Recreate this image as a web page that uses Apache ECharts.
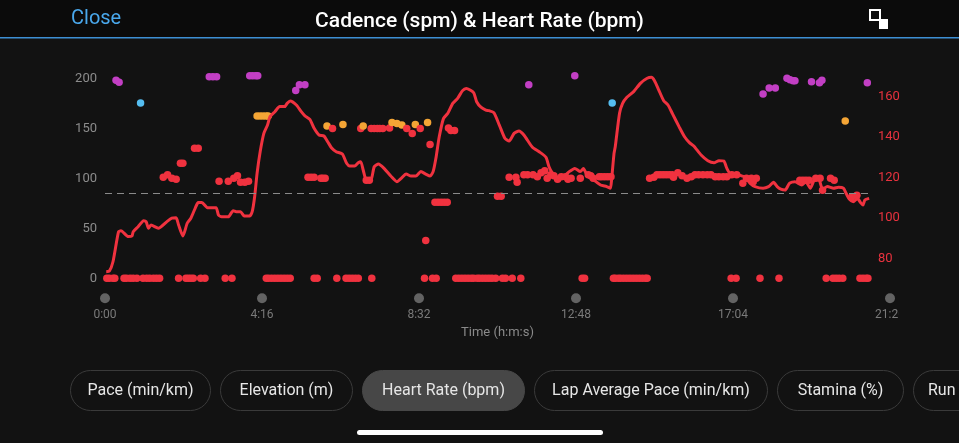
<!DOCTYPE html>
<html><head><meta charset="utf-8">
<script src="https://cdn.jsdelivr.net/npm/echarts@6/dist/echarts.min.js"></script>
<style>html,body{margin:0;padding:0;background:#121212;overflow:hidden}#c{width:959px;height:443px;}</style>
</head><body><div id="c"></div>
<script>
// ---- data ----
const xTicks = [0, 256, 512, 768, 1024, 1280];
const xTickLabels = ['0:00', '4:16', '8:32', '12:48', '17:04', '21:20'];
const cadTicks = [0, 50, 100, 150, 200];
const hrTicks = [80, 100, 120, 140, 160];

const hrTime = [2,7,13,22,26,38,44,46,54,63,67,71,75,87,101,109,116,120,127,134,140,147,152,158,167,181,185,190,201,209,214,221,227,236,240,244,248,253,259,265,269,277,285,293,297,302,312,320,326,334,341,349,357,363,370,377,387,394,399,407,413,417,421,426,434,439,446,455,466,476,483,491,499,507,515,523,530,535,540,545,552,559,567,575,583,589,601,606,613,621,626,634,643,652,659,667,675,683,697,708,719,724,729,735,744,757,766,775,780,786,797,808,818,824,826,830,832,839,844,851,862,873,884,891,896,903,911,918,925,936,945,953,960,972,983,993,1001,1009,1014,1020,1028,1039,1044,1052,1060,1073,1082,1090,1096,1102,1109,1116,1125,1136,1143,1150,1156,1163,1170,1178,1188,1196,1204,1209,1214,1220,1227,1232,1236,1239,1246];
const hrValue = [73.6,73.9,78.5,93.3,93.8,90.9,91.2,93.3,95.8,98.8,98.3,95,96.6,95,98.3,100,100.2,96.6,91.2,97.5,100,104.9,107.7,107.7,105.2,105.2,101.6,100.7,100.7,103.7,103.2,103.2,101.1,101.1,103.2,110.6,122.2,132.8,141.9,146,150.1,152.6,155.1,155.1,156.7,157.9,155.9,152.6,150.5,148.8,144.4,141.1,140.6,137.8,134.5,132.8,131.7,127.1,125.8,125.8,127.4,127.9,123.8,118.9,119.2,125.4,126.8,124.6,120.8,118,119.7,121.8,120.8,120.8,123,121.8,120.8,123,130.4,140.2,149.3,151.8,156.7,159.2,163,164.1,162,157.5,154.8,153.4,153.1,152.1,146,139.5,138.1,141.9,143.1,141.1,135,132.8,130.1,125.4,122.5,120.5,119.7,123,124.6,123,124.6,121.3,118.9,116.4,115.6,114.8,118.9,132,135.3,151.8,156.7,159.7,162.5,166.6,169.1,169.6,167.9,163.3,158,155.9,151.8,145.2,140.2,137.3,135.7,131.2,128.4,127.4,128.4,128.2,124.6,121.8,121.8,120.8,120.2,117.2,115.6,114.8,115.6,117.7,115.6,114.3,113.9,117.2,118,116.4,118,114.8,118.5,120.2,114.3,115.6,114.8,115.3,114.8,111.9,109.3,108.1,109.8,107.7,106.5,109,109.8];

// cadence = 0 (stopped)
const cadStopTime = [3,7,13,16,31,35,41,46,52,62,68,73,79,84,89,120,132,136,140,144,156,163,196,207,263,267,272,277,282,287,292,297,302,341,346,378,393,398,403,408,413,435,521,534,540,572,577,582,587,592,597,601,607,611,616,621,626,631,637,648,653,664,678,778,782,829,832,837,841,846,851,856,861,866,871,876,881,884,1021,1029,1068,1099,1176,1187,1192,1197,1203,1231,1236,1241,1244];
// cadence while moving
const cadTime = [18,23,58,95,102,109,116,123,127,146,152,170,176,182,186,201,210,216,221,228,234,236,241,246,249,248,253,258,263,266,311,317,326,331,336,341,352,355,359,362,371,388,417,421,426,431,434,439,444,448,453,464,468,476,484,492,501,506,514,523,526,530,538,543,548,553,558,560,564,570,640,646,659,670,672,683,689,691,698,705,711,717,721,727,732,738,744,751,755,760,766,775,788,792,796,806,810,815,820,825,827,888,895,900,905,910,915,920,925,927,934,941,949,956,962,968,975,982,988,995,1001,1008,1014,1022,1030,1040,1046,1054,1057,1062,1073,1083,1093,1112,1117,1122,1125,1133,1138,1143,1148,1152,1159,1165,1166,1169,1170,1183,1189,1207,1218,1226,1243];
const cadValue = [199,197,176,101.5,104,100.5,99.5,115.5,115.5,130.5,130.5,202.5,202.5,202.5,97.5,97.5,100.5,103,96.5,96.5,97.5,203.5,203.5,203.5,203.5,163,163,163,163,163,188.5,194.5,194.5,101.5,101.5,101.5,100.5,100.5,100.5,153,150.5,154.5,150.5,153,98.5,98.5,150.5,150.5,150.5,150.5,150.5,151,156.5,155.5,154,150.5,145.5,154.5,150.5,38,156.5,134.5,76.5,76.5,76.5,76.5,76.5,151,148.5,148.5,82.5,82.5,101.5,101.5,96.5,104,104,194.5,104,102,106,108,100.5,104,103,99.5,102,102,99.5,100.5,203.5,100.5,104,103,100.5,102,102,102,102,102,176,100.5,101.5,104,104,104,104,104,104,101.5,106,103,100.5,102,104,104,104,104,104,102,102,102,102,104,104,95.5,100.5,100.5,97,100.5,185,191,191,201,199.5,198.5,198.5,98.5,98.5,98.5,98.5,197.5,100.5,196.5,100.5,199,88.5,100.5,98.5,158,82,83.5,196.5];
const cadAverage = 85.4;
const cadZoneLimits = [153, 164, 174, 184];
const cadZoneColors = ['#f0323f', '#f4a535', '#3fbf5f', '#55bdf0', '#c23fc4'];
const buttonLabels = ['Pace (min/km)', 'Elevation (m)', 'Heart Rate (bpm)', 'Lap Average Pace (min/km)', 'Stamina (%)', 'Run'];
const selectedButton = 2;

// ---- build ----
const FONT = 'Roboto, "Noto Sans", sans-serif';
const hrData = hrTime.map((t, i) => [t, hrValue[i]]);
const cadData = cadStopTime.map(t => [t, 0]).concat(cadTime.map((t, i) => [t, cadValue[i]]));
function zoneColor(v) {
  let k = 0;
  while (k < cadZoneLimits.length && v >= cadZoneLimits[k]) k++;
  return cadZoneColors[k];
}

const pillGeom = [[70,140],[220,132],[362,162],[534,233],[777,126],[913,100]];
const graphics = [
  {type:'rect', z:-10, shape:{x:0,y:0,width:959,height:37}, style:{fill:'#0b0b0b'}},
  {type:'rect', shape:{x:0,y:37,width:959,height:1.6}, style:{fill:'#3d8fd4'}},
  {type:'text', x:71, y:19, style:{text:'Close', fill:'#4aa8ec', font:'20px ' + FONT, verticalAlign:'middle', textVerticalAlign:'middle'}},
  {type:'rect', shape:{x:870,y:10,width:10,height:10}, style:{fill:'none', stroke:'#ffffff', lineWidth:2}},
  {type:'rect', shape:{x:879,y:19,width:9,height:10}, style:{fill:'#ffffff'}},
  {type:'rect', z:50, shape:{x:899,y:304,width:60,height:20}, style:{fill:'#121212'}},
  {type:'rect', shape:{x:357,y:430,width:246,height:5,r:2.5}, style:{fill:'#ffffff'}}
];
buttonLabels.forEach((lab, i) => {
  const [x, w] = pillGeom[i];
  const sel = i === selectedButton;
  graphics.push({type:'rect', shape:{x:x+0.5, y:370.5, width:w, height:40, r:20},
    style:{fill: sel ? '#474747' : 'rgba(0,0,0,0)', stroke: sel ? '#474747' : '#3a3a3a', lineWidth:1}});
  graphics.push({type:'text', x: i === 5 ? x + 15 : x + w / 2 + 0.5, y:391,
    style:{text:lab, fill:'#e6e6e6', font:'16px ' + FONT,
      align: i === 5 ? 'left' : 'center', textAlign: i === 5 ? 'left' : 'center',
      verticalAlign:'middle', textVerticalAlign:'middle'}});
});

const chart = echarts.init(document.getElementById('c'), null, {renderer:'canvas'});
chart.setOption({
  backgroundColor: '#121212',
  animation: false,
  textStyle: {fontFamily: FONT},
  title: {text:'Cadence (spm) & Heart Rate (bpm)', left:'center', top:6,
    textStyle:{color:'#ffffff', fontSize:21, fontWeight:500, fontFamily: FONT}},
  grid: {left:105, right:69, top:69.2, height:211.1},
  xAxis: {
    type:'value', min:0, max:1280, interval:256,
    axisLine:{show:false}, axisTick:{show:false}, splitLine:{show:false},
    axisLabel:{margin:12,
      formatter: v => { const k = xTicks.indexOf(v); return k < 0 ? '' : '{d| }\n{t|' + xTickLabels[k] + '}'; },
      rich:{d:{width:10, height:10, borderRadius:5, backgroundColor:'#636363', align:'center', lineHeight:12},
            t:{color:'#7a7a7a', fontSize:12, lineHeight:21, align:'center'}}},
    name:'Time (h:m:s)', nameLocation:'middle', nameGap:46,
    nameTextStyle:{color:'#8a8a8a', fontSize:13}
  },
  yAxis: [
    {type:'value', min:-2, max:210,
     axisLabel:{customValues:cadTicks, color:'#8c8c8c', fontSize:13, margin:8},
     axisLine:{show:false}, axisTick:{show:false}, splitLine:{show:false}},
    {type:'value', position:'right', offset:-12, min:69.33, max:173.58,
     axisLabel:{customValues:hrTicks, color:'#e8323e', fontSize:13, margin:0},
     axisLine:{show:false}, axisTick:{show:false}, splitLine:{show:false}}
  ],
  series: [
    {type:'scatter', yAxisIndex:0, symbolSize:7.5, data:cadData, z:2,
     itemStyle:{opacity:1, color: p => zoneColor(p.value[1])},
     markLine:{silent:true, symbol:'none', label:{show:false},
       lineStyle:{color:'#8a8a8a', type:[7,5], width:1},
       data:[[{coord:[0, cadAverage]}, {coord:[hrTime[hrTime.length-1], cadAverage]}]]}},
    {type:'line', yAxisIndex:1, showSymbol:false, data:hrData, z:3, smooth:0.2,
     lineStyle:{color:'#f0323f', width:3}}
  ],
  graphic: graphics
});
</script>
</body></html>
